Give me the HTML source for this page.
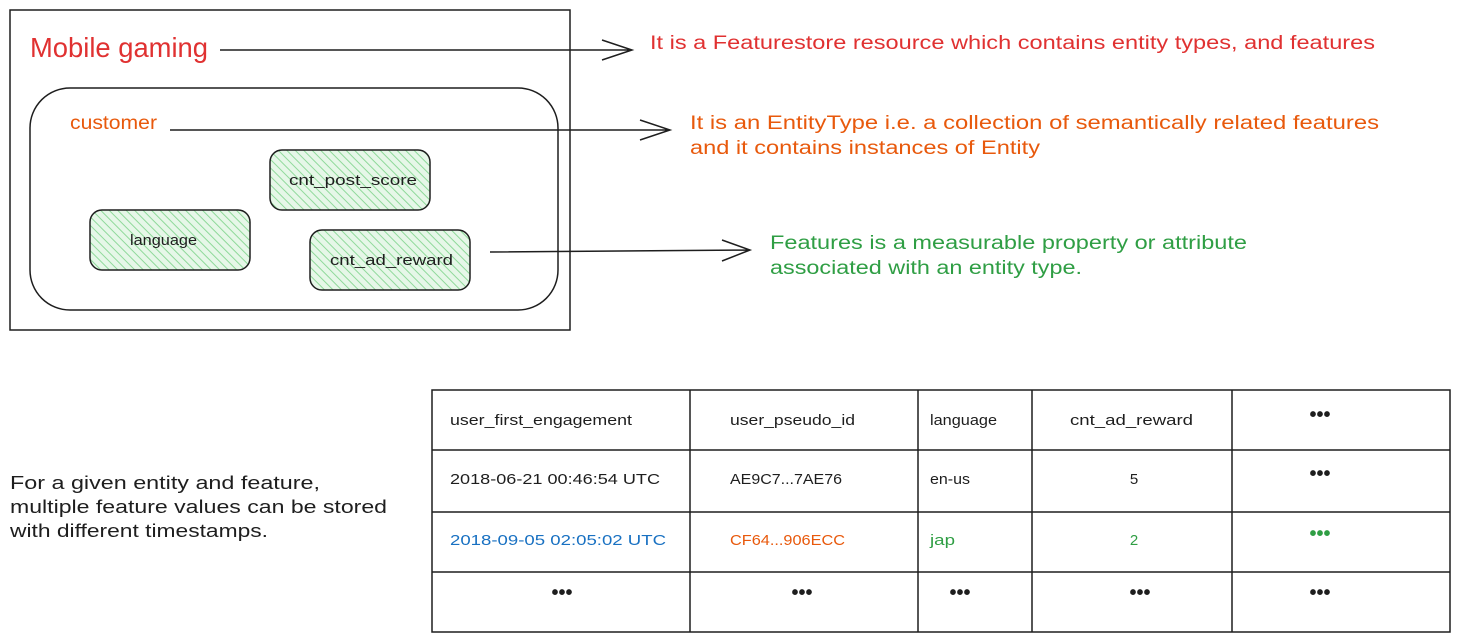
<!DOCTYPE html>
<html><head><meta charset="utf-8"><style>
html,body{margin:0;padding:0;background:#fff;}
svg{display:block;}
text{font-family:"Liberation Sans",sans-serif;}
</style></head><body>
<svg width="1461" height="642" viewBox="0 0 1461 642" xmlns="http://www.w3.org/2000/svg">
<defs>
<pattern id="h" width="6" height="6" patternUnits="userSpaceOnUse" patternTransform="rotate(-45)">
<rect width="6" height="6" fill="#e6f7e8"/>
<line x1="0" y1="0" x2="0" y2="6" stroke="#8fd99a" stroke-width="2"/>
</pattern>
</defs>
<g fill="none" stroke="#1e1e1e" stroke-width="1.5">
<rect x="10" y="10" width="560" height="320"/>
<rect x="30" y="88" width="528" height="222" rx="40"/>
<rect x="270" y="150" width="160" height="60" rx="12" fill="url(#h)"/>
<rect x="90" y="210" width="160" height="60" rx="12" fill="url(#h)"/>
<rect x="310" y="230" width="160" height="60" rx="12" fill="url(#h)"/>
<path d="M220 50 L632 50 M602 40 L632 50 L602 60"/>
<path d="M170 130 L670 130 M640 120 L670 130 L640 140"/>
<path d="M490 252 L750 250 M722 240 L750 250 L722 261"/>
<rect x="432" y="390" width="1018" height="242"/>
<path d="M690 390V632 M918 390V632 M1032 390V632 M1232 390V632 M432 450H1450 M432 512H1450 M432 572H1450"/>
</g>
<g lengthAdjust="spacingAndGlyphs">
<text x="30" y="57" font-size="28" fill="#e03131" textLength="178" lengthAdjust="spacingAndGlyphs">Mobile gaming</text>
<text x="650" y="49" font-size="19" fill="#e03131" textLength="725" lengthAdjust="spacingAndGlyphs">It is a Featurestore resource which contains entity types, and features</text>
<text x="70" y="129" font-size="19" fill="#e8590c" textLength="87" lengthAdjust="spacingAndGlyphs">customer</text>
<text x="690" y="129" font-size="19" fill="#e8590c" textLength="689" lengthAdjust="spacingAndGlyphs">It is an EntityType i.e. a collection of semantically related features</text>
<text x="690" y="154" font-size="19" fill="#e8590c" textLength="350" lengthAdjust="spacingAndGlyphs">and it contains instances of Entity</text>
<text x="770" y="249" font-size="19" fill="#2f9e44" textLength="477" lengthAdjust="spacingAndGlyphs">Features is a measurable property or attribute</text>
<text x="770" y="274" font-size="19" fill="#2f9e44" textLength="312" lengthAdjust="spacingAndGlyphs">associated with an entity type.</text>
</g>
<g font-size="15" fill="#1e1e1e">
<text x="289" y="185" textLength="128" lengthAdjust="spacingAndGlyphs">cnt_post_score</text>
<text x="130" y="245" textLength="67" lengthAdjust="spacingAndGlyphs">language</text>
<text x="330" y="265" textLength="123" lengthAdjust="spacingAndGlyphs">cnt_ad_reward</text>
</g>
<g font-size="18" fill="#1e1e1e">
<text x="10" y="489" textLength="310" lengthAdjust="spacingAndGlyphs">For a given entity and feature,</text>
<text x="10" y="513" textLength="377" lengthAdjust="spacingAndGlyphs">multiple feature values can be stored</text>
<text x="10" y="537" textLength="258" lengthAdjust="spacingAndGlyphs">with different timestamps.</text>
</g>
<g font-size="15" fill="#1e1e1e">
<text x="450" y="425" textLength="182" lengthAdjust="spacingAndGlyphs">user_first_engagement</text>
<text x="730" y="425" textLength="125" lengthAdjust="spacingAndGlyphs">user_pseudo_id</text>
<text x="930" y="425" textLength="67" lengthAdjust="spacingAndGlyphs">language</text>
<text x="1070" y="425" textLength="123" lengthAdjust="spacingAndGlyphs">cnt_ad_reward</text>
<text x="450" y="484" textLength="210" lengthAdjust="spacingAndGlyphs">2018-06-21 00:46:54 UTC</text>
<text x="730" y="484" textLength="112" lengthAdjust="spacingAndGlyphs">AE9C7...7AE76</text>
<text x="930" y="484" textLength="40" lengthAdjust="spacingAndGlyphs">en-us</text>
<text x="1134" y="484" text-anchor="middle">5</text>
<text x="450" y="545" fill="#1971c2" textLength="216" lengthAdjust="spacingAndGlyphs">2018-09-05 02:05:02 UTC</text>
<text x="730" y="545" fill="#e8590c" textLength="115" lengthAdjust="spacingAndGlyphs">CF64...906ECC</text>
<text x="930" y="545" fill="#2f9e44" textLength="25" lengthAdjust="spacingAndGlyphs">jap</text>
<text x="1134" y="545" text-anchor="middle" fill="#2f9e44">2</text>
</g>
<g font-size="20" font-weight="bold" text-anchor="middle" fill="#1e1e1e">
<text x="1320" y="421">•••</text>
<text x="1320" y="480">•••</text>
<text x="1320" y="540" fill="#2f9e44">•••</text>
<text x="562" y="599">•••</text>
<text x="802" y="599">•••</text>
<text x="960" y="599">•••</text>
<text x="1140" y="599">•••</text>
<text x="1320" y="599">•••</text>
</g>
</svg>
</body></html>
